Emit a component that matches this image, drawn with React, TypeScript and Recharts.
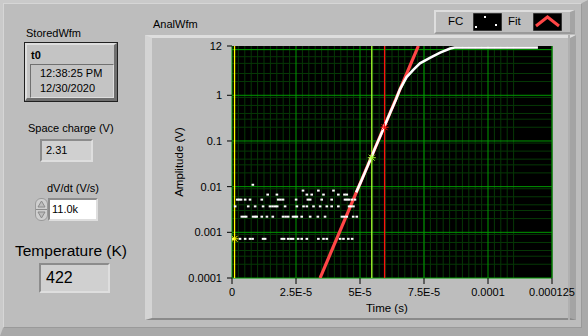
import React from "react";
import {
  ComposedChart,
  Line,
  Scatter,
  XAxis,
  YAxis,
  CartesianGrid,
  ReferenceLine,
} from "recharts";

// time values are in microseconds, converted to seconds below
const xTicks = [0, 2.5e-5, 5e-5, 7.5e-5, 1e-4, 1.25e-4];
const xTickLabels = ["0", "2.5E-5", "5E-5", "7.5E-5", "0.0001", "0.000125"];
const yTicks = [0.0001, 0.001, 0.01, 0.1, 1, 10, 12];
const yTickLabels = ["0.0001", "0.001", "0.01", "0.1", "1", "", "12"];

// FC: quantised noise before the rise
const noiseLevels = [0.011, 0.0082, 0.0067, 0.0052, 0.0037, 0.0022, 0.00072];
const noiseTimes = [
  [8.1],
  [27.7, 33.7, 39.6],
  [13.9, 17.5, 29.2, 31.1, 35.7, 41.5, 43.9, 44.8],
  [2.0, 2.7, 3.5, 5.1, 7.0, 11.6, 18.0, 18.9, 19.9, 25.0, 29.6, 30.5, 35.0, 38.9, 44.1, 44.9, 45.7, 46.8, 48.0],
  [1.2, 6.3, 9.0, 12.1, 14.8, 15.8, 16.8, 17.6, 20.7, 25.3, 27.9, 29.2, 31.8, 34.4, 37.0, 38.9, 41.5, 45.7, 46.5, 47.4],
  [3.8, 4.7, 5.5, 8.2, 9.0, 9.6, 11.6, 13.6, 15.9, 19.9, 20.9, 21.9, 23.8, 24.6, 25.3, 27.2, 30.5, 33.5, 36.3, 42.9, 43.8, 44.8, 47.3, 48.7],
  [0.4, 3.1, 5.1, 7.0, 8.0, 12.1, 12.9, 19.4, 20.3, 21.9, 22.9, 23.8, 25.8, 27.2, 29.2, 33.7, 35.7, 37.0, 42.2, 43.5, 45.4, 46.9],
];

// FC: rising edge and plateau
const riseTimes = [48.5, 50, 52, 54, 56, 58, 60, 62, 64, 65.6, 68.2, 70.8, 73.4, 77.3, 81.3, 85.2, 87, 119.5];
const riseAmps = [0.0075, 0.0115, 0.021, 0.039, 0.072, 0.13, 0.24, 0.44, 0.8, 1.35, 2.5, 3.6, 5.0, 6.6, 8.6, 10.6, 11.1, 11.1];

// Fit (exponential, straight on log axis)
const fitTimes = [34.4, 72.8];
const fitAmps = [0.0001, 12];

// cursors
const cursorTimes = [1.0, 54.6, 59.6];
const cursorAmps = [0.00072, 0.043, 0.2];
const cursorColors = ["#ffff00", "#a6ff2e", "#ff1010"];

const us = 1e-6;

const noiseData = noiseLevels.flatMap((v, i) =>
  noiseTimes[i].map((t) => ({ t: t * us, v }))
);
const riseData = riseTimes.map((t, i) => ({ t: t * us, v: riseAmps[i] }));
const fitData = fitTimes.map((t, i) => ({ t: t * us, v: fitAmps[i] }));

const minorX: number[] = [];
for (let i = 0; i <= 50; i++) minorX.push(i * 2.5e-6);
const minorY: number[] = [];
for (let d = -4; d <= 1; d++) {
  for (let k = 1; k <= 9; k++) {
    const v = k * Math.pow(10, d);
    if (v <= 12) minorY.push(v);
  }
}
const majorY = [0.0001, 0.001, 0.01, 0.1, 1, 10];

const BG = "#bdbdbd";
const LIGHT = "#dedede";
const DARK = "#8c8c8c";
const FONT = "'Liberation Sans', Arial, sans-serif";

const NoiseDot = (p: any) => (
  <rect x={p.cx - 1.2} y={p.cy - 1} width={2.6} height={2} fill="#ffffff" />
);

const CursorMark = (color: string) => (p: any) => (
  <g stroke={color} strokeWidth={1}>
    <line x1={p.cx - 4} y1={p.cy} x2={p.cx + 4} y2={p.cy} />
    <line x1={p.cx} y1={p.cy - 4} x2={p.cx} y2={p.cy + 4} />
    <line x1={p.cx - 3} y1={p.cy - 3} x2={p.cx + 3} y2={p.cy + 3} />
    <line x1={p.cx - 3} y1={p.cy + 3} x2={p.cx + 3} y2={p.cy - 3} />
  </g>
);

const abs = (l: number, t: number, w: number, h: number): React.CSSProperties => ({
  position: "absolute",
  left: l,
  top: t,
  width: w,
  height: h,
  boxSizing: "border-box",
});

const txt = (l: number, t: number, size = 11, extra: React.CSSProperties = {}): React.CSSProperties => ({
  position: "absolute",
  left: l,
  top: t,
  fontSize: size,
  lineHeight: `${size + 2}px`,
  whiteSpace: "nowrap",
  color: "#000",
  ...extra,
});

const sunken = (fill: string): React.CSSProperties => ({
  background: fill,
  borderTop: `2px solid ${DARK}`,
  borderLeft: `2px solid ${DARK}`,
  borderBottom: `2px solid ${LIGHT}`,
  borderRight: `2px solid ${LIGHT}`,
});

export default function App() {
  return (
    <div
      style={{
        position: "absolute",
        left: 0,
        top: 0,
        width: 588,
        height: 336,
        background: BG,
        fontFamily: FONT,
        overflow: "hidden",
      }}
    >
      {/* window bevel */}
      <div
        style={{
          ...abs(0, 0, 588, 336),
          borderTop: `3px solid #cacaca`,
          borderLeft: `3px solid #cacaca`,
          borderRight: `6px solid #a9a9a9`,
          borderBottom: `8px solid #a9a9a9`,
        }}
      />
      <div style={{ ...abs(3, 3, 579, 325), border: "1px solid #9a9a9a", borderTopColor: "#d6d6d6", borderLeftColor: "#d6d6d6" }} />

      {/* StoredWfm cluster */}
      <div style={txt(26, 27)}>StoredWfm</div>
      <div style={{ ...abs(24, 42, 94, 60), border: "1px solid #202020", background: "#c4c4c4" }}>
        <div
          style={{
            ...abs(0, 0, 92, 58),
            borderTop: `2px solid ${LIGHT}`,
            borderLeft: `2px solid ${LIGHT}`,
            borderRight: `3px solid #6e6e6e`,
            borderBottom: `3px solid #6e6e6e`,
          }}
        />
        <div style={txt(6, 6, 11, { fontWeight: "bold" })}>t0</div>
        <div
          style={{
            ...abs(5, 21, 84, 34),
            borderTop: `1px solid #707070`,
            borderLeft: `1px solid #707070`,
            borderBottom: `1px solid ${LIGHT}`,
            borderRight: `1px solid ${LIGHT}`,
          }}
        />
        <div style={txt(15, 24)}>12:38:25 PM</div>
        <div style={txt(15, 39)}>12/30/2020</div>
      </div>

      {/* Space charge */}
      <div style={txt(28, 122)}>Space charge (V)</div>
      <div style={{ ...abs(40, 139, 53, 23), ...sunken("#d0d0d0") }} />
      <div style={txt(46, 144)}>2.31</div>

      {/* dV/dt */}
      <div style={txt(47, 182)}>dV/dt (V/s)</div>
      <div style={{ ...abs(35, 198, 13, 23), borderRadius: 6, background: "#cfcfcf", border: "1px solid #9a9a9a" }} />
      <svg style={{ position: "absolute", left: 35, top: 198 }} width={13} height={23}>
        <path d="M3 9 L6.5 3 L10 9 Z" fill="#bdbdbd" stroke="#8a8a8a" />
        <path d="M3 14 L6.5 20 L10 14 Z" fill="#bdbdbd" stroke="#8a8a8a" />
        <line x1={1} y1={11.5} x2={12} y2={11.5} stroke="#8a8a8a" />
      </svg>
      <div style={{ ...abs(48, 198, 50, 23), ...sunken("#ffffff") }} />
      <div style={txt(52, 203)}>11.0k</div>

      {/* Temperature */}
      <div style={txt(15, 242, 15.5)}>Temperature (K)</div>
      <div style={{ ...abs(39, 263, 71, 30), ...sunken("#d0d0d0") }} />
      <div style={txt(46, 269, 16)}>422</div>

      {/* graph frame */}
      <div style={txt(153, 18)}>AnalWfm</div>
      <div
        style={{
          ...abs(145, 35, 431, 285),
          borderTop: `3px solid ${LIGHT}`,
          borderLeft: `7px solid #d4d4d4`,
          borderRight: `6px solid #a4a4a4`,
          borderBottom: `2px solid #8a8a8a`,
        }}
      />
      <div style={{ ...abs(568, 35, 2, 285), background: "#b0b0b0" }} />

      {/* legend */}
      <div
        style={{
          ...abs(434, 10, 141, 24),
          borderTop: `2px solid ${LIGHT}`,
          borderLeft: `2px solid ${LIGHT}`,
          borderRight: `5px solid #a4a4a4`,
          borderBottom: `2px solid #9a9a9a`,
        }}
      />
      <div style={txt(448, 15, 11.5)}>FC</div>
      <svg style={{ position: "absolute", left: 473, top: 13 }} width={29} height={18}>
        <rect x={0} y={0} width={29} height={18} fill="#000" stroke="#6a6a6a" />
        <rect x={11} y={3} width={2} height={2} fill="#fff" />
        <rect x={2} y={13} width={2} height={2} fill="#fff" />
        <rect x={22} y={11} width={2} height={2} fill="#fff" />
      </svg>
      <div style={txt(508, 15, 11.5)}>Fit</div>
      <svg style={{ position: "absolute", left: 533, top: 13 }} width={29} height={18}>
        <rect x={0} y={0} width={29} height={18} fill="#000" stroke="#6a6a6a" />
        <path d="M3 13 L14.5 4 L26 13" fill="none" stroke="#ff4646" strokeWidth={3} />
      </svg>

      {/* axis titles */}
      <div style={txt(366, 302, 11.5)}>Time (s)</div>
      <div
        style={{
          ...txt(180, 162, 11.5),
          transform: "translate(-50%, -50%) rotate(-90deg)",
        }}
      >
        Amplitude (V)
      </div>

      <div style={{ position: "absolute", left: 0, top: 0 }}>
        <ComposedChart
          width={588}
          height={336}
          margin={{ top: 46, right: 36, bottom: 28, left: 172 }}
        >
          <CartesianGrid
            fill="#000000"
            stroke="#063806"
            strokeWidth={1}
            verticalValues={minorX}
            horizontalValues={minorY}
          />
          <CartesianGrid
            stroke="#009a00"
            strokeWidth={1}
            verticalValues={xTicks}
            horizontalValues={majorY}
          />
          <XAxis
            type="number"
            dataKey="t"
            domain={[0, 1.25e-4]}
            ticks={xTicks}
            tickFormatter={(v: number) => xTickLabels[xTicks.indexOf(v)] ?? ""}
            axisLine={false}
            tickSize={6}
            tickMargin={4}
            tickLine={{ stroke: "#000" }}
            tick={{ fill: "#000", fontSize: 11, fontFamily: FONT }}
            height={30}
            allowDataOverflow
          />
          <YAxis
            type="number"
            dataKey="v"
            scale="log"
            domain={[0.0001, 12]}
            ticks={yTicks}
            tickFormatter={(v: number) => yTickLabels[yTicks.indexOf(v)] ?? ""}
            axisLine={false}
            tickSize={5}
            tickMargin={5}
            tickLine={{ stroke: "#000" }}
            tick={{ fill: "#000", fontSize: 11, fontFamily: FONT }}
            width={60}
            allowDataOverflow
          />
          {cursorTimes.map((t, i) => (
            <ReferenceLine
              key={"c" + i}
              x={t * us}
              stroke={cursorColors[i]}
              strokeWidth={1.3}
            />
          ))}
          <Scatter
            data={noiseData}
            dataKey="v"
            shape={NoiseDot}
            isAnimationActive={false}
          />
          <Line
            data={fitData}
            dataKey="v"
            stroke="#ff4646"
            strokeWidth={3.2}
            dot={false}
            isAnimationActive={false}
          />
          <Line
            data={riseData}
            dataKey="v"
            stroke="#ffffff"
            strokeWidth={2.6}
            dot={false}
            isAnimationActive={false}
          />
          {cursorTimes.map((t, i) => (
            <Scatter
              key={"m" + i}
              data={[{ t: t * us, v: cursorAmps[i] }]}
              dataKey="v"
              shape={CursorMark(cursorColors[i])}
              isAnimationActive={false}
            />
          ))}
        </ComposedChart>
      </div>
    </div>
  );
}
